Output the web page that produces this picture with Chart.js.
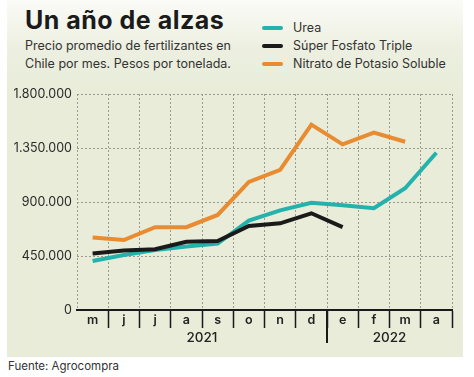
<!DOCTYPE html>
<html>
<head>
<meta charset="utf-8">
<script src="https://cdn.jsdelivr.net/npm/chart.js@4"></script>
<style>
  body { margin: 0; width: 474px; height: 377px; background: #fff; position: relative; overflow: hidden; font-family: "Inter", "Open Sans", sans-serif; }
  .panel { position: absolute; left: 7px; top: 0; width: 456px; height: 357px;
    background: linear-gradient(#fbfbf7 0px, #edf0e1 45px, #e8ecd8 95px, #e8ecd8 100%); }
  #title { position: absolute; left: 25px; top: 5px; font-size: 25px; font-weight: 700; color: #1b1b1b; letter-spacing: 0.5px; }
  #subtitle { position: absolute; left: 25px; top: 37px; font-size: 12.5px; line-height: 18px; color: #333; }
  #legend { position: absolute; left: 262px; top: 19px; font-size: 12.5px; color: #333; }
  #legend div { height: 18px; line-height: 18px; white-space: nowrap; }
  #legend span.sw { display: inline-block; width: 21px; height: 4px; border-radius: 2px; vertical-align: middle; margin-right: 10px; position: relative; top: -1px; }
  #source { position: absolute; left: 8px; top: 359px; font-size: 11.5px; color: #333; }
  canvas { position: absolute; left: 0; top: 0; }
</style>
</head>
<body>
<div class="panel"></div>
<div id="title">Un año de alzas</div>
<div id="subtitle">Precio promedio de fertilizantes en<br>Chile por mes. Pesos por tonelada.</div>
<div id="legend"></div>
<div id="source">Fuente: Agrocompra</div>
<canvas id="myChart" width="474" height="377"></canvas>
<script>
const months = ["m", "j", "j", "a", "s", "o", "n", "d", "e", "f", "m", "a"];
const years = ["2021", "2022"];
const monthsPerYear = [8, 4];
const yTicks = [0, 450000, 900000, 1350000, 1800000];

const seriesNames = ["Urea", "Súper Fosfato Triple", "Nitrato de Potasio Soluble"];
const urea = [408000, 458000, 500000, 530000, 553000, 745000, 830000, 893000, 872000, 848000, 1015000, 1310000];
const superFosfato = [470000, 495000, 506000, 568000, 575000, 700000, 722000, 806000, 690000, null, null, null];
const nitrato = [605000, 583000, 690000, 690000, 792000, 1068000, 1168000, 1545000, 1380000, 1478000, 1402000, null];

const colors = ["#24b2ad", "#1a1a1a", "#e98b31"];

function formatPesos(v) {
    return String(v).replace(/\B(?=(\d{3})+(?!\d))/g, ".");
}

// leyenda en html
const legendBox = document.getElementById("legend");
seriesNames.forEach((name, i) => {
    const row = document.createElement("div");
    row.innerHTML = `<span class="sw" style="background:${colors[i]}"></span>${name}`;
    legendBox.appendChild(row);
});

const yearLabels = {
    id: "yearLabels",
    afterDraw(chart) {
        const ctx = chart.ctx;
        const x = chart.scales.x;
        const bottom = chart.chartArea.bottom;
        ctx.save();
        ctx.fillStyle = "#222";
        ctx.font = "500 13.5px Inter";
        ctx.textAlign = "center";
        ctx.textBaseline = "middle";
        let start = 0;
        years.forEach((year, i) => {
            const end = start + monthsPerYear[i] - 1;
            const cx = (x.getPixelForValue(start) + x.getPixelForValue(end)) / 2;
            ctx.fillText(year, cx, bottom + 28);
            if (i > 0) {
                const sx = Math.round((x.getPixelForValue(start - 1) + x.getPixelForValue(start)) / 2);
                ctx.strokeStyle = "#1a1a1a";
                ctx.lineWidth = 2;
                ctx.beginPath();
                ctx.moveTo(sx, bottom);
                ctx.lineTo(sx, bottom + 33);
                ctx.stroke();
            }
            start = end + 1;
        });
        ctx.restore();
    }
};

Chart.defaults.font.family = "Inter";
Chart.defaults.color = "#2a2a2a";

const ctx = document.getElementById("myChart").getContext("2d");
const datasets = [urea, superFosfato, nitrato].map((data, i) => ({
    label: seriesNames[i],
    data: data,
    borderColor: colors[i],
    backgroundColor: colors[i],
    borderWidth: 4,
    pointRadius: 0,
    tension: 0,
    borderJoinStyle: "miter",
    order: 2 - i,
}));

new Chart(ctx, {
    type: "line",
    data: { labels: months, datasets: datasets },
    options: {
        responsive: false,
        animation: false,
        layout: { padding: { left: 7, right: 22, top: 94, bottom: 20 } },
        plugins: { legend: { display: false }, tooltip: { enabled: false } },
        scales: {
            x: {
                offset: true,
                afterFit: (scale) => { scale.height = 47; },
                grid: {
                    offset: true,
                    color: "#9a9a92",
                    lineWidth: 1,
                    // sin marca en los bordes izquierdo y derecho
                    tickColor: (c) => (c.index === 0 || c.index === months.length) ? "rgba(0,0,0,0)" : "#1a1a1a",
                    tickLength: 18,
                    tickWidth: 1.5,
                    tickBorderDash: [],
                },
                border: { color: "#1a1a1a", width: 2, dash: [2, 2] },
                ticks: { font: { size: 12.5, weight: "600" }, color: "#222", padding: -15, maxRotation: 0, autoSkip: false },
            },
            y: {
                min: 0,
                max: 1800000,
                afterFit: (scale) => { scale.width = 70; },
                afterBuildTicks: (scale) => { scale.ticks = yTicks.map((v) => ({ value: v })); },
                grid: { color: "#9a9a92", lineWidth: 1, drawTicks: false },
                border: { display: false, dash: [2, 2] },
                ticks: { font: { size: 12.5 }, color: "#2a2a2a", padding: 5, callback: (v) => formatPesos(v) },
            },
        },
    },
    plugins: [yearLabels],
});
</script>
</body>
</html>
